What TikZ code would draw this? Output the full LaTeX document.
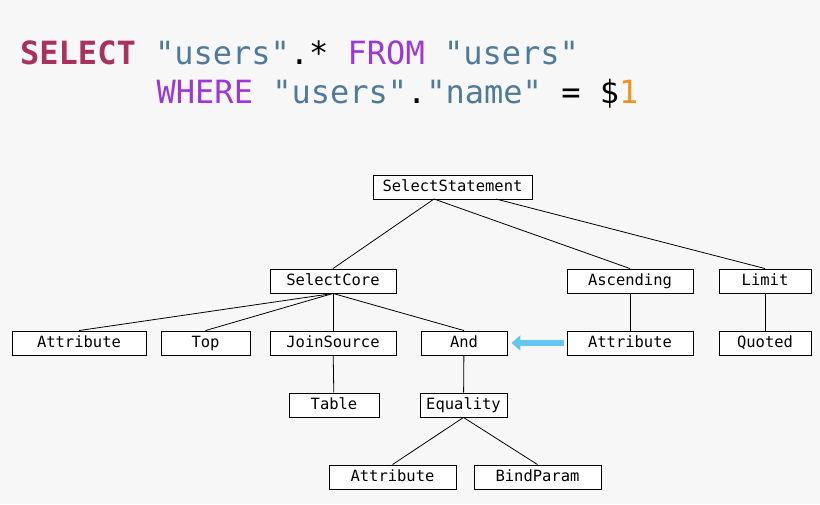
\documentclass[tikz,border=0pt]{standalone}
\usepackage{fontspec}
\newfontfamily\monob[Scale=1]{DejaVu Sans Mono}
\usetikzlibrary{arrows.meta}
\definecolor{bg}{HTML}{F7F7F7}
\definecolor{kw}{HTML}{A8325E}
\definecolor{kp}{HTML}{9B38D6}
\definecolor{st}{HTML}{4F7A99}
\definecolor{nm}{HTML}{F0921E}
\definecolor{ar}{HTML}{66C6F2}
\begin{document}
\begin{tikzpicture}[x=1pt,y=-1pt,
  box/.style={draw,fill=white,line width=0.9pt,minimum height=24pt,inner sep=0pt,text height=11pt,text depth=3pt,font=\monob\fontsize{15.5}{15.5}\selectfont},
  edge/.style={line width=0.8pt}]
\fill[bg] (0,0) rectangle (820,504);
\useasboundingbox (0,0) rectangle (820,504);
\node[anchor=base west,inner sep=0,font=\monob\fontsize{32}{32}\selectfont] (l1) at (20,64)
 {\textcolor{kw}{\bfseries SELECT} \textcolor{st}{"users"}.* \textcolor{kp}{FROM} \textcolor{st}{"users"}};
\node[anchor=base west,inner sep=0,font=\monob\fontsize{32}{32}\selectfont] (l2) at (156.5,103)
 {\textcolor{kp}{WHERE} \textcolor{st}{"users"}.\textcolor{st}{"name"} = \$\textcolor{nm}{1}};
\node[box,minimum width=159pt] (ss) at (452.5,187) {SelectStatement};
\node[box,minimum width=126pt] (sc) at (333,281) {SelectCore};
\node[box,minimum width=126pt] (asc) at (630,281) {Ascending};
\node[box,minimum width=92pt] (lim) at (765,281) {Limit};
\node[box,minimum width=134pt] (a1) at (79,343) {Attribute};
\node[box,minimum width=89pt] (top) at (205.5,343) {Top};
\node[box,minimum width=126pt] (js) at (333,343) {JoinSource};
\node[box,minimum width=86pt] (and) at (464,343) {And};
\node[box,minimum width=126pt] (a2) at (630,343) {Attribute};
\node[box,minimum width=92pt] (q) at (765,343) {Quoted};
\node[box,minimum width=90pt] (tab) at (334,405) {Table};
\node[box,minimum width=87pt] (eq) at (463.5,405) {Equality};
\node[box,minimum width=127pt] (a3) at (392.5,477) {Attribute};
\node[box,minimum width=127pt] (bp) at (537.5,477) {BindParam};
\draw[edge] (434,199) -- (sc.north);
\draw[edge] (434,199) -- (asc.north);
\draw[edge] (496,199) -- (lim.north);
\draw[edge] (sc.south) -- (a1.north);
\draw[edge] (sc.south) -- (top.north);
\draw[edge] (sc.south) -- (js.north);
\draw[edge] (sc.south) -- (and.north);
\draw[edge] (asc) -- (a2);
\draw[edge] (lim) -- (q);
\draw[edge] (js) -- (tab);
\draw[edge] (and) -- (eq);
\draw[edge] (eq.south) -- (a3.north);
\draw[edge] (eq.south) -- (bp.north);
\draw[ar,line width=6pt,-{Triangle[length=9pt,width=15pt]}] (a2.west) ++(-3,0) -- ([xshift=4pt]and.east);
\end{tikzpicture}
\end{document}
